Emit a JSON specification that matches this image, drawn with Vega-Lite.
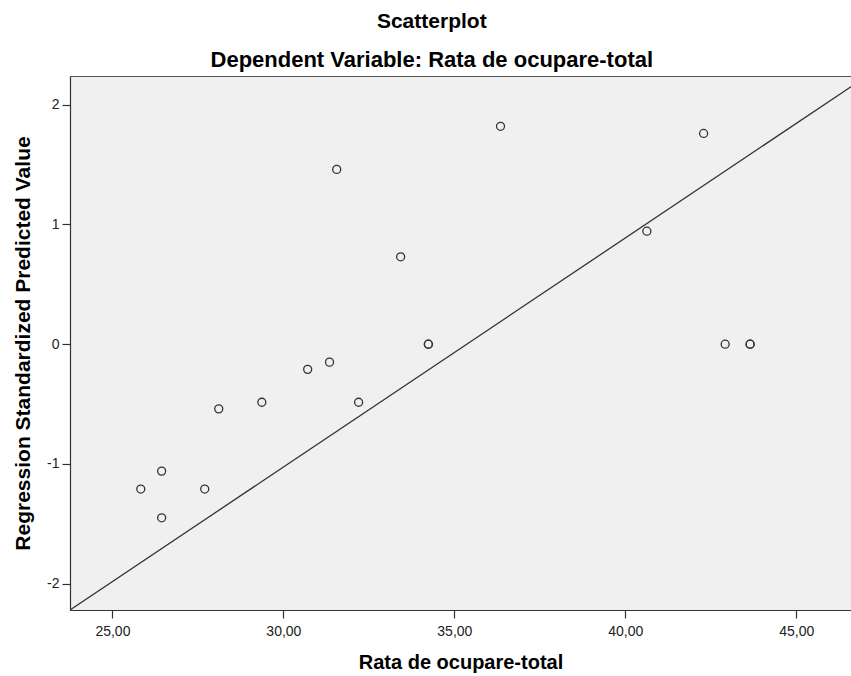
{
  "$schema": "https://vega.github.io/schema/vega-lite/v6.json",
  "width": 781,
  "height": 534,
  "autosize": {"type": "none"},
  "padding": {"left": 70, "top": 76, "right": 0, "bottom": 66},
  "background": "white",
  "title": {
    "text": "Scatterplot",
    "subtitle": "Dependent Variable: Rata de ocupare-total",
    "anchor": "middle",
    "frame": "bounds",
    "font": "Liberation Sans",
    "fontSize": 21,
    "fontWeight": "bold",
    "color": "black",
    "subtitleFont": "Liberation Sans",
    "subtitleFontSize": 22,
    "subtitleFontWeight": "bold",
    "subtitleColor": "black",
    "subtitlePadding": 18,
    "offset": 5
  },
  "config": {
    "view": {"fill": "#F0F0F0", "stroke": "#555555", "strokeWidth": 1},
    "axis": {
      "grid": false,
      "domainColor": "#333333",
      "domainWidth": 1.2,
      "tickColor": "#333333",
      "tickWidth": 1.2,
      "tickSize": 8,
      "labelFont": "Liberation Sans",
      "labelFontSize": 14,
      "labelColor": "#222222",
      "titleFont": "Liberation Sans",
      "titleFontSize": 20,
      "titleFontWeight": "bold",
      "titleColor": "black"
    }
  },
  "datasets": {
    "pts": [
      {"x": 25.83, "y": -1.21},
      {"x": 26.44, "y": -1.06},
      {"x": 26.44, "y": -1.45},
      {"x": 27.70, "y": -1.21},
      {"x": 28.11, "y": -0.54},
      {"x": 29.37, "y": -0.485},
      {"x": 30.71, "y": -0.21},
      {"x": 31.35, "y": -0.15},
      {"x": 32.20, "y": -0.485},
      {"x": 31.56, "y": 1.46},
      {"x": 33.43, "y": 0.73},
      {"x": 34.24, "y": 0.0},
      {"x": 34.24, "y": 0.0},
      {"x": 36.35, "y": 1.82},
      {"x": 42.29, "y": 1.76},
      {"x": 40.63, "y": 0.944},
      {"x": 42.92, "y": 0.0},
      {"x": 43.65, "y": 0.0},
      {"x": 43.65, "y": 0.0}
    ],
    "fit": [
      {"x": 23.76, "y": -2.22},
      {"x": 46.6, "y": 2.15}
    ]
  },
  "layer": [
    {
      "data": {"name": "fit"},
      "mark": {"type": "line", "color": "#333333", "strokeWidth": 1.3, "clip": true},
      "encoding": {
        "x": {"field": "x", "type": "quantitative"},
        "y": {"field": "y", "type": "quantitative"}
      }
    },
    {
      "data": {"name": "pts"},
      "mark": {"type": "point", "shape": "circle", "filled": false, "stroke": "#333333", "strokeWidth": 1.3, "size": 64, "opacity": 1},
      "encoding": {
        "x": {
          "field": "x",
          "type": "quantitative",
          "scale": {"domain": [23.76, 46.6], "nice": false, "zero": false},
          "axis": {
            "title": "Rata de ocupare-total",
            "values": [25, 30, 35, 40, 45],
            "labelExpr": "replace(format(datum.value, '.2f'), '.', ',')",
            "labelPadding": 6,
            "titlePadding": 14
          }
        },
        "y": {
          "field": "y",
          "type": "quantitative",
          "scale": {"domain": [-2.22, 2.24], "nice": false, "zero": false},
          "axis": {
            "title": "Regression Standardized Predicted Value",
            "titleFontSize": 21,
            "values": [-2, -1, 0, 1, 2],
            "labelExpr": "replace(format(datum.value, 'd'), '\u2212', '-')",
            "labelPadding": 3,
            "titlePadding": 13
          }
        }
      }
    }
  ]
}
